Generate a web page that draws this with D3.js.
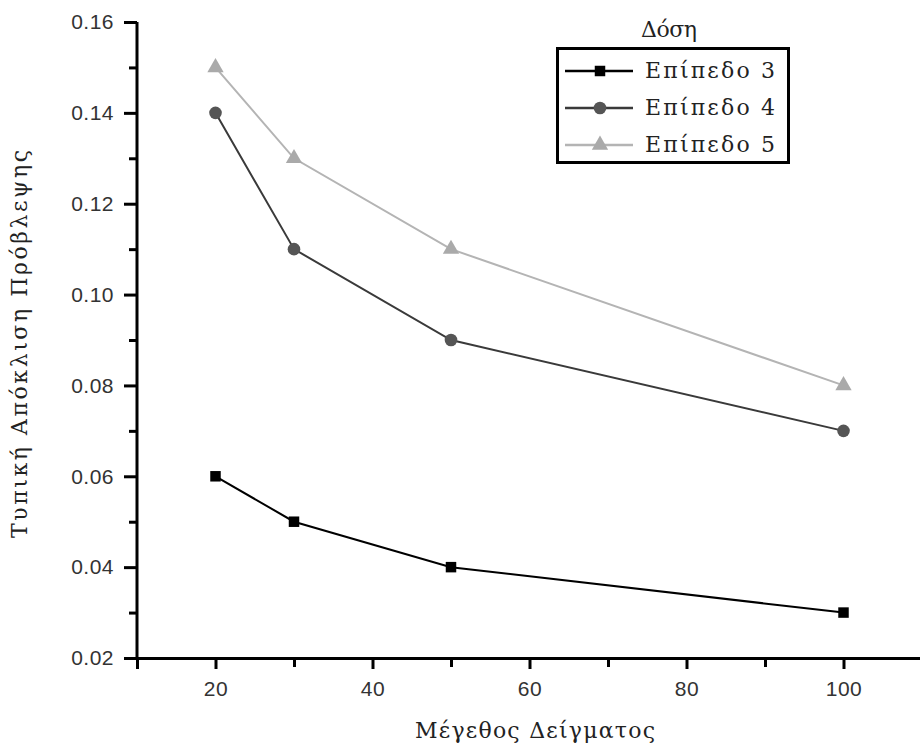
<!DOCTYPE html>
<html>
<head>
<meta charset="utf-8">
<script src="https://cdn.jsdelivr.net/npm/d3@7"></script>
<style>
  body { margin: 0; background: #fff; }
  svg { display: block; }
  .tick text { font-family: "Liberation Sans", Arial, sans-serif; font-size: 21px; fill: #333; letter-spacing: 0.5px; }
  .greek { font-family: "DejaVu Serif", "Liberation Serif", serif; fill: #222; }
</style>
</head>
<body>
<div id="chart"></div>
<script>
// data
const sampleSizes = [20, 30, 50, 100];
const level3 = [0.06, 0.05, 0.04, 0.03];
const level4 = [0.14, 0.11, 0.09, 0.07];
const level5 = [0.15, 0.13, 0.11, 0.08];
const seriesNames = ["Επίπεδο 3", "Επίπεδο 4", "Επίπεδο 5"];
const yTicks = [0.02, 0.04, 0.06, 0.08, 0.10, 0.12, 0.14, 0.16];
const xTicks = [20, 40, 60, 80, 100];

const width = 920, height = 753;
const margin = { top: 22, right: -2, bottom: 95, left: 137 };

const svg = d3.select("#chart").append("svg")
  .attr("width", width)
  .attr("height", height);

const x = d3.scaleLinear().domain([10, 110]).range([margin.left, width - margin.right]);
const y = d3.scaleLinear().domain([0.02, 0.16]).range([height - margin.bottom, margin.top]);

const series = [
  { name: seriesNames[0], values: level3, color: "#000", shape: d3.symbolSquare, size: 110 },
  { name: seriesNames[1], values: level4, color: "#555", line: "#3a3a3a", shape: d3.symbolCircle, size: 125 },
  { name: seriesNames[2], values: level5, color: "#aaa", line: "#b4b4b4", shape: d3.symbolTriangle, size: 115 }
];

// axes
const xMinor = d3.range(10, 111, 10).filter(v => !xTicks.includes(v));
const yMinor = d3.range(0.03, 0.16, 0.02);

svg.append("g")
  .attr("transform", `translate(0,${y(0.02)})`)
  .call(d3.axisBottom(x).tickValues(xMinor).tickSize(9).tickFormat(""))
  .call(g => g.select(".domain").remove())
  .call(g => g.selectAll("line").attr("stroke-width", 3));

svg.append("g")
  .attr("transform", `translate(0,${y(0.02)})`)
  .call(d3.axisBottom(x).tickValues(xTicks).tickSize(11).tickPadding(12).tickFormat(d3.format("d")))
  .call(g => g.select(".domain").attr("stroke-width", 3))
  .call(g => g.selectAll("line").attr("stroke-width", 3));

svg.append("g")
  .attr("transform", `translate(${x(10)},0)`)
  .call(d3.axisLeft(y).tickValues(yMinor).tickSize(8).tickFormat(""))
  .call(g => g.select(".domain").remove())
  .call(g => g.selectAll("line").attr("stroke-width", 3));

svg.append("g")
  .attr("transform", `translate(${x(10)},0)`)
  .call(d3.axisLeft(y).tickValues(yTicks).tickSize(13).tickPadding(10).tickFormat(d3.format(".2f")))
  .call(g => g.select(".domain").attr("stroke-width", 3).attr("d", `M0,${y(0.02)}V${y(0.16)}`))
  .call(g => g.selectAll("line").attr("stroke-width", 3));

// lines and markers
const line = d3.line()
  .x((d, i) => x(sampleSizes[i]))
  .y(d => y(d));

series.slice().reverse().forEach(s => {
  svg.append("path")
    .datum(s.values)
    .attr("fill", "none")
    .attr("stroke", s.line || s.color)
    .attr("stroke-width", 2)
    .attr("d", line);

  svg.append("g").selectAll("path")
    .data(s.values)
    .join("path")
    .attr("transform", (d, i) => `translate(${x(sampleSizes[i])},${y(d)})`)
    .attr("d", d3.symbol(s.shape, s.size))
    .attr("fill", s.color);
});

// axis titles
svg.append("text")
  .attr("class", "greek")
  .attr("x", 535)
  .attr("y", 738)
  .attr("text-anchor", "middle")
  .attr("font-size", 22)
  .attr("textLength", 240)
  .text("Μέγεθος Δείγματος");

svg.append("text")
  .attr("class", "greek")
  .attr("transform", "translate(27,344) rotate(-90)")
  .attr("text-anchor", "middle")
  .attr("font-size", 22)
  .attr("textLength", 388)
  .text("Τυπική Απόκλιση Πρόβλεψης");

// legend
const legend = svg.append("g");
legend.append("text")
  .attr("class", "greek")
  .attr("x", 669)
  .attr("y", 37)
  .attr("text-anchor", "middle")
  .attr("font-size", 22)
  .attr("textLength", 56)
  .text("Δόση");

legend.append("rect")
  .attr("x", 557.5).attr("y", 48.5)
  .attr("width", 231).attr("height", 114)
  .attr("fill", "#fff")
  .attr("stroke", "#000")
  .attr("stroke-width", 3);

series.forEach((s, i) => {
  const ly = 71 + i * 37;
  legend.append("line")
    .attr("x1", 565).attr("x2", 633)
    .attr("y1", ly).attr("y2", ly)
    .attr("stroke", s.line || s.color)
    .attr("stroke-width", 2.5);
  legend.append("path")
    .attr("transform", `translate(600,${ly})`)
    .attr("d", d3.symbol(s.shape, s.size))
    .attr("fill", s.color);
  legend.append("text")
    .attr("class", "greek")
    .attr("x", 645)
    .attr("y", ly + 7)
    .attr("font-size", 22)
    .attr("textLength", 130)
    .text(s.name);
});
</script>
</body>
</html>
